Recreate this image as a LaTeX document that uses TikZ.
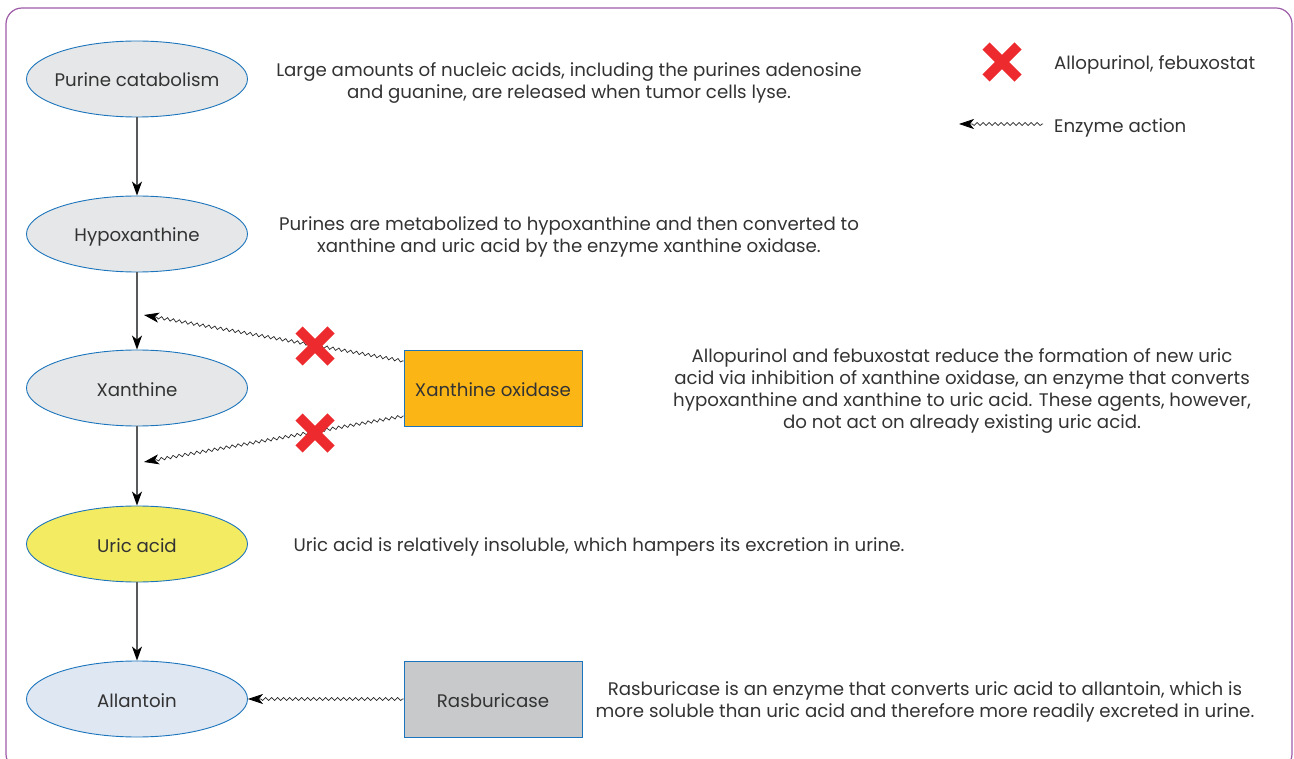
\documentclass[tikz,border=0pt]{standalone}
\usepackage{fontspec}
\setmainfont{Poppins}
\usetikzlibrary{shapes.geometric,arrows.meta,decorations.pathmorphing}
\definecolor{frame}{HTML}{9E5BA8}
\definecolor{edgeblue}{HTML}{1C75BC}
\definecolor{ellgray}{HTML}{E6E7E8}
\definecolor{uricyel}{HTML}{F3EC63}
\definecolor{allblue}{HTML}{DFE7F3}
\definecolor{xoorange}{HTML}{FBB616}
\definecolor{rasgray}{HTML}{C8C9CA}
\definecolor{txt}{HTML}{333333}
\definecolor{xred}{HTML}{ED2A2E}
\definecolor{linegray}{HTML}{58595B}
\tikzset{
  every node/.style={text=txt, font=\fontsize{18.2}{22}\selectfont},
  stage/.style={ellipse, draw=edgeblue, line width=0.9pt, minimum width=221pt, minimum height=76pt,
    inner xsep=-20pt, inner ysep=0pt, text height=16pt, text depth=0pt},
  enzyme/.style={rectangle, draw=edgeblue, line width=0.9pt, minimum width=178pt, minimum height=76pt,
    inner sep=0pt, text height=16pt, text depth=0pt},
  desc/.style={align=center, inner sep=0pt},
  flow/.style={draw=linegray, line width=1.1pt, -{Stealth[length=14pt,width=10pt,inset=4pt,color=black]}},
  wave/.style={draw=black!85, line width=0.7pt, -{Stealth[length=15pt,width=10pt,inset=4pt,color=black]},
    decorate, decoration={snake, amplitude=1.5pt, segment length=6pt, post length=12pt, pre length=1pt}},
  xmark/.pic={\draw[xred, line width=10pt] (-16,-16) -- (16,16) (-16,16) -- (16,-16);}
}
\begin{document}
\begin{tikzpicture}[x=1pt,y=-1pt]
\useasboundingbox (0,0) rectangle (1294,759);
\draw[frame, line width=1.2pt, rounded corners=16pt] (6,8) rectangle (1292,770);

\node[stage, fill=ellgray] (pur) at (137,79) {Purine catabolism};
\node[stage, fill=ellgray] (hyp) at (137,234) {Hypoxanthine};
\node[stage, fill=ellgray] (xan) at (137,388) {Xanthine};
\node[stage, fill=uricyel] (uric) at (137,544) {Uric acid};
\node[stage, fill=allblue] (all) at (137,699) {Allantoin};

\node[enzyme, fill=xoorange] (xo) at (493,388) {Xanthine oxidase};
\node[enzyme, fill=rasgray] (ras) at (493,699) {Rasburicase};

\draw[flow] (pur) -- (hyp);
\draw[flow] (hyp) -- (xan);
\draw[flow] (xan) -- (uric);
\draw[flow] (uric) -- (all);

\coordinate (t1) at (144,315);
\coordinate (t2) at (144,462);
\draw[wave] (xo.west |- 0,361) -- (t1);
\draw[wave] (xo.west |- 0,416) -- (t2);
\draw[wave] (ras.west) -- (all.east);

\pic at (315,346) {xmark};
\pic at (315,433) {xmark};

\node[desc] (d1) at (569,83) {Large amounts of nucleic acids, including the purines adenosine\\and guanine, are released when tumor cells lyse.};
\node[desc] (d2) at (569,237) {Purines are metabolized to hypoxanthine and then converted to\\xanthine and uric acid by the enzyme xanthine oxidase.};
\node[desc] (d3) at (962,391) {Allopurinol and febuxostat reduce the formation of new uric\\acid via inhibition of xanthine oxidase, an enzyme that converts\\hypoxanthine and xanthine to uric acid. These agents, however,\\do not act on already existing uric acid.};
\node[desc] (d4) at (599,547) {Uric acid is relatively insoluble, which hampers its excretion in urine.};
\node[desc] (d5) at (925,702) {Rasburicase is an enzyme that converts uric acid to allantoin, which is\\more soluble than uric acid and therefore more readily excreted in urine.};

\pic at (1002,62) {xmark};
\node[anchor=west, inner sep=0pt] (l1) at (1054,65) {Allopurinol, febuxostat};
\coordinate (lw1) at (1043,124);
\coordinate (lw2) at (959,124);
\draw[wave] (lw1) -- (lw2);
\node[anchor=west, inner sep=0pt] (l2) at (1054,128) {Enzyme action};
\end{tikzpicture}
\end{document}
